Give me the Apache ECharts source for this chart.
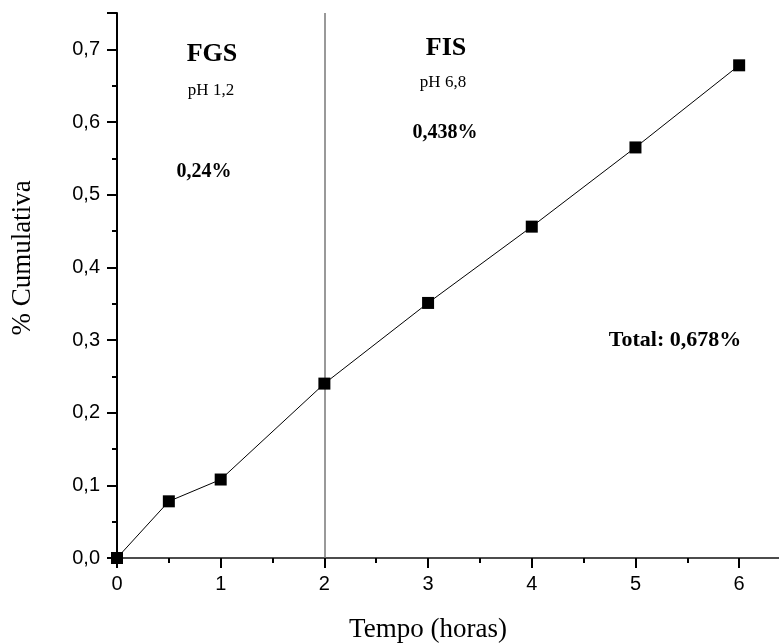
<!DOCTYPE html>
<html><head><meta charset="utf-8">
<script src="https://cdn.jsdelivr.net/npm/echarts@6/dist/echarts.min.js"></script>
<style>html,body{margin:0;padding:0;background:#fff}#c{width:779px;height:643px}</style>
</head><body><div id="c"></div>
<script>
const tempo = [0, 0.5, 1, 2, 3, 4, 5, 6];
const cumulativa = [0, 0.078, 0.108, 0.24, 0.351, 0.456, 0.565, 0.678];
const phaseBoundary = 2;
const fmt = v => v.toFixed(1).replace('.', ',');

const chart = echarts.init(document.getElementById('c'));
const serif = '"Liberation Serif","Times New Roman",serif';
const sans = '"Liberation Sans",Arial,sans-serif';
const txt = (x, y, text, size, bold, extra) => Object.assign({
  type: 'text', x: x, y: y,
  style: {text: text, fontFamily: serif, fontSize: size, fontWeight: bold ? 'bold' : 'normal',
          fill: '#000', align: 'center', verticalAlign: 'middle'}
}, extra || {});
chart.setOption({
  animation: false,
  grid: {left: 117, width: 674, top: 13, height: 545, outerBoundsMode: 'none', containLabel: false},
  xAxis: [{
    type: 'value', min: 0, max: 6.5, interval: 1,
    axisLine: {show: true, onZero: false, lineStyle: {color: '#000', width: 2}},
    axisTick: {show: true, length: 10, lineStyle: {color: '#000', width: 2}},
    minorTick: {show: true, splitNumber: 2, length: 5, lineStyle: {color: '#000', width: 2}},
    axisLabel: {fontFamily: sans, fontSize: 20, color: '#000', margin: 16, showMaxLabel: false},
    splitLine: {show: false}
  }, {
    type: 'value', position: 'top', min: 0, max: 6.5,
    axisLine: {show: true, lineStyle: {color: '#666', width: 1.5}},
    axisTick: {show: false}, axisLabel: {show: false}, splitLine: {show: false}
  }],
  yAxis: {
    type: 'value', min: 0, max: 0.75, interval: 0.1,
    axisLine: {show: true, lineStyle: {color: '#000', width: 2}},
    axisTick: {show: true, length: 10, lineStyle: {color: '#000', width: 2}},
    minorTick: {show: true, splitNumber: 2, length: 5, lineStyle: {color: '#000', width: 2}},
    axisLabel: {fontFamily: sans, fontSize: 20, color: '#000', margin: 17, showMaxLabel: false, formatter: fmt},
    splitLine: {show: false}
  },
  series: [{
    type: 'line',
    data: tempo.map((t, i) => [t, cumulativa[i]]),
    symbol: 'rect', symbolSize: 12,
    itemStyle: {color: '#000'},
    lineStyle: {color: '#000', width: 1},
    z: 5,
    markLine: {
      silent: true, symbol: 'none', label: {show: false},
      lineStyle: {color: '#777', width: 1.5, type: 'solid'},
      data: [{xAxis: phaseBoundary}]
    }
  }],
  graphic: [
    txt(428, 630, 'Tempo (horas)', 27, false),
    txt(23, 258, '% Cumulativa', 27, false, {rotation: Math.PI / 2}),
    txt(212, 54, 'FGS', 26, true),
    txt(211, 91, 'pH 1,2', 17, false),
    txt(204, 172, '0,24%', 20, true),
    txt(446, 48, 'FIS', 26, true),
    txt(443, 83, 'pH 6,8', 17, false),
    txt(445, 133, '0,438%', 20, true),
    txt(675, 340, 'Total: 0,678%', 22, true)
  ]
});
</script></body></html>
